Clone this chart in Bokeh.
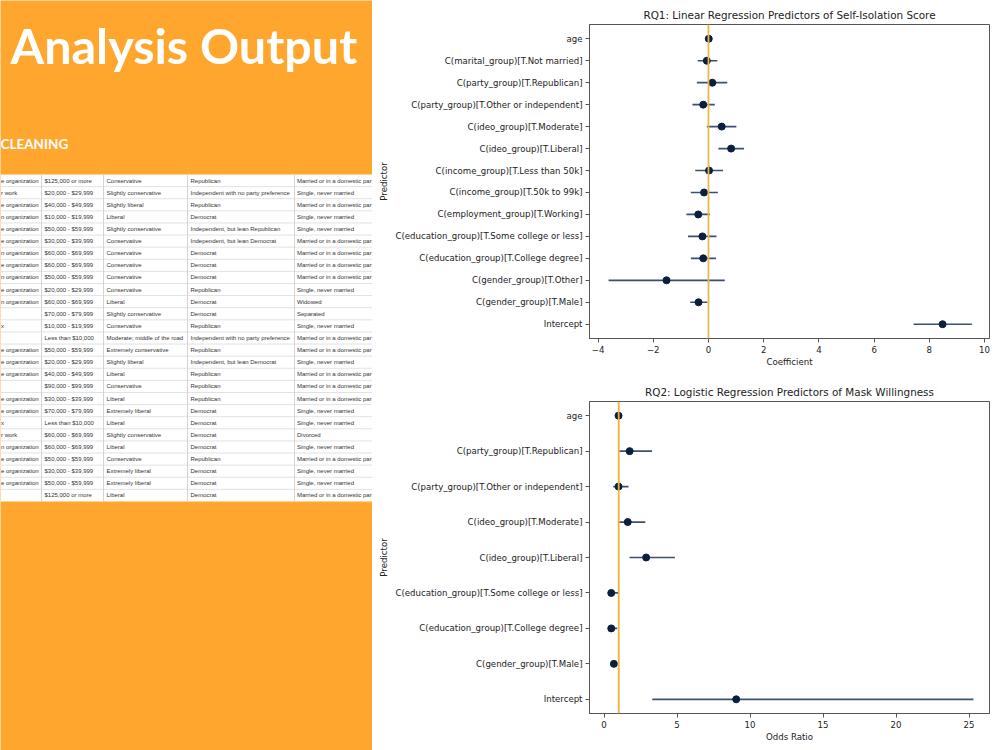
from bokeh.plotting import figure
from bokeh.models import Range1d, FixedTicker, Span, ColumnDataSource, Div
from bokeh.layouts import row, column
from bokeh.embed import file_html
from bokeh.resources import INLINE
from bokeh.core.properties import value

# ---------------- data ----------------
rq1_predictors = [
    "age", "C(marital_group)[T.Not married]", "C(party_group)[T.Republican]",
    "C(party_group)[T.Other or independent]", "C(ideo_group)[T.Moderate]",
    "C(ideo_group)[T.Liberal]", "C(income_group)[T.Less than 50k]",
    "C(income_group)[T.50k to 99k]", "C(employment_group)[T.Working]",
    "C(education_group)[T.Some college or less]", "C(education_group)[T.College degree]",
    "C(gender_group)[T.Other]", "C(gender_group)[T.Male]", "Intercept"]
rq1_coef = [0.01, -0.06, 0.14, -0.19, 0.48, 0.82, 0.02, -0.16, -0.37, -0.22, -0.19, -1.52, -0.36, 8.48]
rq1_lo = [-0.01, -0.39, -0.42, -0.58, -0.06, 0.36, -0.48, -0.64, -0.80, -0.74, -0.64, -3.62, -0.66, 7.43]
rq1_hi = [0.03, 0.32, 0.68, 0.23, 1.01, 1.29, 0.53, 0.34, 0.05, 0.29, 0.27, 0.59, -0.04, 9.54]
rq1_xticks = [-4, -2, 0, 2, 4, 6, 8, 10]

rq2_predictors = [
    "age", "C(party_group)[T.Republican]", "C(party_group)[T.Other or independent]",
    "C(ideo_group)[T.Moderate]", "C(ideo_group)[T.Liberal]",
    "C(education_group)[T.Some college or less]", "C(education_group)[T.College degree]",
    "C(gender_group)[T.Male]", "Intercept"]
rq2_or = [0.99, 1.75, 0.99, 1.62, 2.88, 0.49, 0.49, 0.67, 9.05]
rq2_lo = [0.97, 1.04, 0.63, 1.04, 1.74, 0.30, 0.30, 0.50, 3.30]
rq2_hi = [1.01, 3.28, 1.67, 2.82, 4.85, 0.98, 0.90, 0.90, 25.3]
rq2_xticks = [0, 5, 10, 15, 20, 25]

tbl_col1 = ["e organization", "r work", "e organization", "n organization", "e organization",
            "e organization", "n organization", "e organization", "n organization", "e organization",
            "n organization", "", "x", "", "e organization", "e organization", "e organization", "",
            "e organization", "e organization", "x", "r work", "n organization", "e organization",
            "e organization", "e organization", ""]
tbl_income = ["$125,000 or more", "$20,000 - $29,999", "$40,000 - $49,999", "$10,000 - $19,999",
              "$50,000 - $59,999", "$30,000 - $39,999", "$60,000 - $69,999", "$60,000 - $69,999",
              "$50,000 - $59,999", "$20,000 - $29,999", "$60,000 - $69,999", "$70,000 - $79,999",
              "$10,000 - $19,999", "Less than $10,000", "$50,000 - $59,999", "$20,000 - $29,999",
              "$40,000 - $49,999", "$90,000 - $99,999", "$30,000 - $39,999", "$70,000 - $79,999",
              "Less than $10,000", "$60,000 - $69,999", "$60,000 - $69,999", "$50,000 - $59,999",
              "$30,000 - $39,999", "$50,000 - $59,999", "$125,000 or more"]
tbl_ideology = ["Conservative", "Slightly conservative", "Slightly liberal", "Liberal",
                "Slightly conservative", "Conservative", "Conservative", "Conservative",
                "Conservative", "Conservative", "Liberal", "Slightly conservative", "Conservative",
                "Moderate; middle of the road", "Extremely conservative", "Slightly liberal",
                "Liberal", "Conservative", "Liberal", "Extremely liberal", "Liberal",
                "Slightly conservative", "Liberal", "Conservative", "Extremely liberal",
                "Extremely liberal", "Liberal"]
tbl_party = ["Republican", "Independent with no party preference", "Republican", "Democrat",
             "Independent, but lean Republican", "Independent, but lean Democrat", "Democrat",
             "Democrat", "Democrat", "Republican", "Democrat", "Democrat", "Republican",
             "Independent with no party preference", "Republican", "Independent, but lean Democrat",
             "Republican", "Republican", "Republican", "Democrat", "Democrat", "Democrat",
             "Democrat", "Republican", "Democrat", "Democrat", "Democrat"]
MAR = "Married or in a domestic par"
SNM = "Single, never married"
tbl_marital = [MAR, SNM, MAR, SNM, SNM, MAR, MAR, MAR, MAR, SNM, "Widowed", "Separated", SNM,
               MAR, MAR, SNM, MAR, MAR, MAR, SNM, SNM, "Divorced", SNM, MAR, SNM, SNM, MAR]

ORANGE = "#FFA62F"
FONT = "DejaVu Sans"

# ---------------- left slide panel ----------------
left = figure(width=372, height=750, x_range=Range1d(0, 372), y_range=Range1d(750, 0),
              toolbar_location=None, output_backend="svg", min_border=0,
              background_fill_color=ORANGE, border_fill_color=ORANGE, outline_line_color=None)
left.axis.visible = False
left.grid.visible = False

left.text(x=[10], y=[44], text=["Analysis Output"], text_color="white",
          text_font=value("Lato"), text_font_style="bold", text_font_size="48.5px",
          text_baseline="alphabetic", text_align="left")
left.text(x=[0], y=[143], text=["CLEANING"], text_color="white",
          text_font=value("Lato"), text_font_style="bold", text_font_size="13.5px",
          text_baseline="alphabetic", text_align="left")

n_rows = len(tbl_income)
tbl_top, row_h = 174.0, 12.11
tbl_bottom = tbl_top + n_rows * row_h
left.quad(left=[0], right=[372], top=[tbl_top], bottom=[tbl_bottom], fill_color="white", line_color=None)
hy = [tbl_top + i * row_h for i in range(1, n_rows)]
left.segment(x0=[0] * len(hy), x1=[372] * len(hy), y0=hy, y1=hy, line_color="#e2e2e2", line_width=1)
col_edges = [41, 103, 187, 294]
left.segment(x0=col_edges, x1=col_edges, y0=[tbl_top] * 4, y1=[tbl_bottom] * 4,
             line_color="#d4d4d4", line_width=1)
cols = [(tbl_col1, 0.5), (tbl_income, 44), (tbl_ideology, 106), (tbl_party, 190), (tbl_marital, 296.5)]
ymid = [tbl_top + (i + 0.5) * row_h for i in range(n_rows)]
for texts, x0 in cols:
    left.text(x=[x0] * n_rows, y=ymid, text=texts, text_color="#333333",
              text_font=value("Liberation Sans"), text_font_size="6px",
              text_baseline="middle", text_align="left")


# ---------------- forest plots ----------------
def forest(title, labels, est, lo, hi, xr, xticks, ref, ref_color, xlabel, height, top, bottom):
    n = len(labels)
    ys = list(range(n))
    m = 0.05 * (n - 1)
    p = figure(width=625, height=height, x_range=Range1d(*xr), y_range=Range1d(n - 1 + m, -m),
               toolbar_location=None, output_backend="svg", title=title,
               min_border_left=217, min_border_right=8, min_border_top=top, min_border_bottom=bottom,
               background_fill_color="white", border_fill_color="white",
               outline_line_color="#555555", outline_line_width=1)
    p.grid.visible = False
    p.title.align = "center"
    p.title.text_font = FONT
    p.title.text_font_size = "10.4px"
    p.title.text_font_style = "normal"
    p.title.text_color = "#222222"
    p.title.standoff = 7

    p.add_layout(Span(location=ref, dimension="height", line_color=ref_color, line_width=1.8))
    src = ColumnDataSource(dict(y=ys, est=est, lo=lo, hi=hi))
    p.segment(x0="lo", x1="hi", y0="y", y1="y", source=src, line_color="#3b5072", line_width=1.7)
    p.scatter(x="est", y="y", source=src, size=7, fill_color="#0b1e3d", line_color="#0b1e3d")

    p.xaxis.ticker = FixedTicker(ticks=xticks)
    p.xaxis.major_label_overrides = {t: (("\u2212" + str(abs(t))) if t < 0 else str(t)) for t in xticks}
    p.yaxis.ticker = FixedTicker(ticks=ys)
    p.yaxis.major_label_overrides = {i: lab for i, lab in enumerate(labels)}
    p.xaxis.axis_label = xlabel
    p.yaxis.axis_label = "Predictor"
    for ax in p.axis:
        ax.axis_line_color = "#555555"
        ax.major_tick_line_color = "#555555"
        ax.major_tick_out = 4
        ax.major_tick_in = 0
        ax.minor_tick_out = 0
        ax.minor_tick_in = 0
        ax.major_label_text_font = FONT
        ax.major_label_text_font_size = "8.6px"
        ax.major_label_text_color = "#222222"
        ax.major_label_standoff = 3
        ax.axis_label_text_font = FONT
        ax.axis_label_text_font_size = "8.6px"
        ax.axis_label_text_font_style = "normal"
        ax.axis_label_text_color = "#222222"
        ax.axis_label_standoff = 3
    p.xaxis.axis_label_standoff = 1
    return p


rq1 = forest("RQ1: Linear Regression Predictors of Self-Isolation Score", rq1_predictors,
             rq1_coef, rq1_lo, rq1_hi, (-4.31, 10.18), rq1_xticks, 0, "#E8B84C", "Coefficient",
             376, 24, 38)
rq2 = forest("RQ2: Logistic Regression Predictors of Mask Willingness", rq2_predictors,
             rq2_or, rq2_lo, rq2_hi, (-1.0, 26.4), rq2_xticks, 1, "#F0B232", "Odds Ratio",
             374, 25, 37)

stripe = Div(width=3, height=750, styles={"background-color": ORANGE})

layout = row(left, column(rq1, rq2, spacing=0), stripe, spacing=0)
open("out.html", "w").write(file_html(layout, INLINE))
